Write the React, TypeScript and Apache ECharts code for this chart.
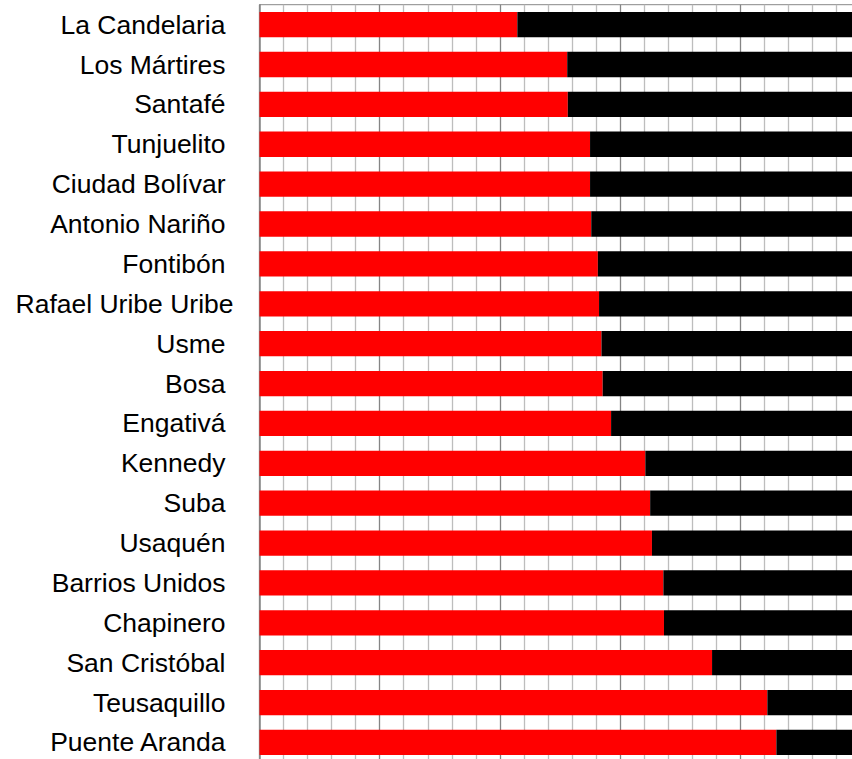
import React, { useEffect, useRef } from "react";
import * as echarts from "echarts";

const categories = [
  "La Candelaria",
  "Los Mártires",
  "Santafé",
  "Tunjuelito",
  "Ciudad Bolívar",
  "Antonio Nariño",
  "Fontibón",
  "Rafael Uribe Uribe",
  "Usme",
  "Bosa",
  "Engativá",
  "Kennedy",
  "Suba",
  "Usaquén",
  "Barrios Unidos",
  "Chapinero",
  "San Cristóbal",
  "Teusaquillo",
  "Puente Aranda",
];

const redValues = [
  42.9, 51.2, 51.3, 55.0, 55.0, 55.2, 56.3, 56.5, 56.9, 57.1, 58.5, 64.2, 65.0,
  65.3, 67.2, 67.3, 75.3, 84.5, 86.0,
];

const blackValues = redValues.map((v) => +(100 - v).toFixed(1));

const FONT = "'Liberation Sans', Arial, sans-serif";
const FS = 26.5;

export default function App() {
  const ref = useRef<HTMLDivElement>(null);
  useEffect(() => {
    if (!ref.current) return;
    const chart = echarts.init(ref.current, null, { renderer: "svg" });
    chart.setOption({
      animation: false,
      backgroundColor: "#ffffff",
      grid: {
        left: 259.5,
        top: 4.7,
        width: 601,
        height: 757.7,
        containLabel: false,
        show: true,
        borderColor: "#888888",
        borderWidth: 1,
      },
      xAxis: {
        type: "value",
        min: 0,
        max: 100,
        interval: 4,
        axisLine: { show: false },
        axisTick: { show: false },
        axisLabel: { show: false },
        splitLine: {
          show: true,
          lineStyle: {
            color: ["#858585", "#bdbdbd", "#bdbdbd", "#bdbdbd", "#bdbdbd"],
            width: 1.3,
          },
        },
      },
      yAxis: {
        type: "category",
        inverse: true,
        data: categories,
        axisLine: { show: true, lineStyle: { color: "#868686", width: 1.5 } },
        axisTick: { show: false },
        splitLine: { show: false },
        axisLabel: {
          margin: 26,
          fontFamily: FONT,
          fontSize: FS,
          color: "#000000",
          formatter: (v: string) =>
            v === "Rafael Uribe Uribe" ? `{b|${v}}` : `{a|${v}}`,
          rich: {
            a: {
              padding: [0, 8, 0, 0],
              fontFamily: FONT,
              fontSize: FS,
              color: "#000000",
            },
            b: {
              fontFamily: FONT,
              fontSize: FS,
              color: "#000000",
            },
          },
        },
      },
      series: [
        {
          name: "red",
          type: "bar",
          stack: "total",
          data: redValues,
          barCategoryGap: "36.5%",
          itemStyle: { color: "#ff0000" },
        },
        {
          name: "black",
          type: "bar",
          stack: "total",
          data: blackValues,
          barCategoryGap: "36.5%",
          itemStyle: { color: "#000000" },
        },
      ],
    });
    return () => chart.dispose();
  }, []);
  return (
    <div
      style={{
        position: "fixed",
        left: 0,
        top: 0,
        width: 852,
        height: 759,
        overflow: "hidden",
        background: "#ffffff",
      }}
    >
      <div ref={ref} style={{ width: 880, height: 780 }} />
    </div>
  );
}
